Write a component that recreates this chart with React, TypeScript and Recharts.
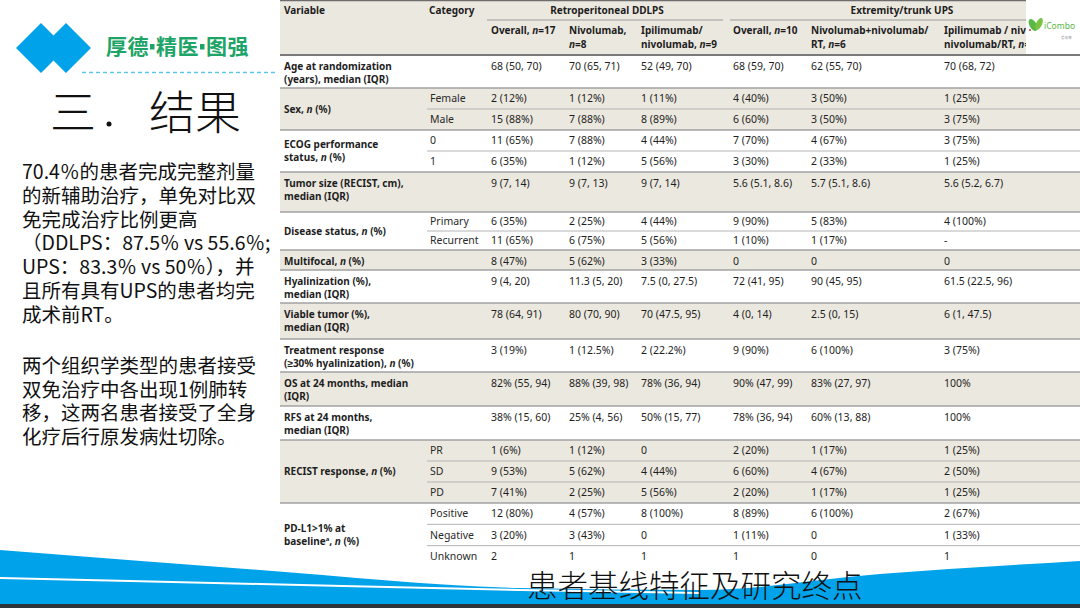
import React from "react";
import { Surface, Layer, Rectangle, Polygon, Curve, Text } from "recharts";

// ---- slide text ----
const bulletLines1 = [
  "70.4％的患者完成完整剂量",
  "的新辅助治疗，单免对比双",
  "免完成治疗比例更高",
  "（DDLPS：87.5％ vs 55.6％;",
  "UPS：83.3％ vs 50％），并",
  "且所有具有UPS的患者均完",
  "成术前RT。",
];
const bulletLines2 = [
  "两个组织学类型的患者接受",
  "双免治疗中各出现1例肺转",
  "移，这两名患者接受了全身",
  "化疗后行原发病灶切除。",
];

// ---- table data ----
const groupHeaders = ["Retroperitoneal DDLPS", "Extremity/trunk UPS"];
const colHeaders = [
  ["Overall, *n*=17"],
  ["Nivolumab,", "*n*=8"],
  ["Ipilimumab/", "nivolumab, *n*=9"],
  ["Overall, *n*=10"],
  ["Nivolumab+nivolumab/", "RT, *n*=6"],
  ["Ipilimumab / nivolumab/", "nivolumab/RT, *n*=4"],
];
const variableLabels = [
  ["Age at randomization", "(years), median (IQR)"],
  ["Sex, *n* (%)"],
  ["ECOG performance", "status, *n* (%)"],
  ["Tumor size (RECIST, cm),", "median (IQR)"],
  ["Disease status, *n* (%)"],
  ["Multifocal, *n* (%)"],
  ["Hyalinization (%),", "median (IQR)"],
  ["Viable tumor (%),", "median (IQR)"],
  ["Treatment response", "(≥30% hyalinization), *n* (%)"],
  ["OS at 24 months, median", "(IQR)"],
  ["RFS at 24 months,", "median (IQR)"],
  ["RECIST response, *n* (%)"],
  ["PD-L1>1% at", "baseline^a^, *n* (%)"],
];
const categories = [
  [""],
  ["Female", "Male"],
  ["0", "1"],
  [""],
  ["Primary", "Recurrent"],
  [""],
  [""],
  [""],
  [""],
  [""],
  [""],
  ["PR", "SD", "PD"],
  ["Positive", "Negative", "Unknown"],
];
const ddlpsOverall = ["68 (50, 70)", "2 (12%)", "15 (88%)", "11 (65%)", "6 (35%)", "9 (7, 14)", "6 (35%)", "11 (65%)", "8 (47%)", "9 (4, 20)", "78 (64, 91)", "3 (19%)", "82% (55, 94)", "38% (15, 60)", "1 (6%)", "9 (53%)", "7 (41%)", "12 (80%)", "3 (20%)", "2"];
const ddlpsNivo = ["70 (65, 71)", "1 (12%)", "7 (88%)", "7 (88%)", "1 (12%)", "9 (7, 13)", "2 (25%)", "6 (75%)", "5 (62%)", "11.3 (5, 20)", "80 (70, 90)", "1 (12.5%)", "88% (39, 98)", "25% (4, 56)", "1 (12%)", "5 (62%)", "2 (25%)", "4 (57%)", "3 (43%)", "1"];
const ddlpsIpiNivo = ["52 (49, 70)", "1 (11%)", "8 (89%)", "4 (44%)", "5 (56%)", "9 (7, 14)", "4 (44%)", "5 (56%)", "3 (33%)", "7.5 (0, 27.5)", "70 (47.5, 95)", "2 (22.2%)", "78% (36, 94)", "50% (15, 77)", "0", "4 (44%)", "5 (56%)", "8 (100%)", "0", "1"];
const upsOverall = ["68 (59, 70)", "4 (40%)", "6 (60%)", "7 (70%)", "3 (30%)", "5.6 (5.1, 8.6)", "9 (90%)", "1 (10%)", "0", "72 (41, 95)", "4 (0, 14)", "9 (90%)", "90% (47, 99)", "78% (36, 94)", "2 (20%)", "6 (60%)", "2 (20%)", "8 (89%)", "1 (11%)", "1"];
const upsNivoRT = ["62 (55, 70)", "3 (50%)", "3 (50%)", "4 (67%)", "2 (33%)", "5.7 (5.1, 8.6)", "5 (83%)", "1 (17%)", "0", "90 (45, 95)", "2.5 (0, 15)", "6 (100%)", "83% (27, 97)", "60% (13, 88)", "1 (17%)", "4 (67%)", "1 (17%)", "6 (100%)", "0", "0"];
const upsIpiNivoRT = ["70 (68, 72)", "1 (25%)", "3 (75%)", "3 (75%)", "1 (25%)", "5.6 (5.2, 6.7)", "4 (100%)", "-", "0", "61.5 (22.5, 96)", "6 (1, 47.5)", "3 (75%)", "100%", "100%", "1 (25%)", "2 (50%)", "1 (25%)", "2 (67%)", "1 (33%)", "1"];
const valueColumns = [ddlpsOverall, ddlpsNivo, ddlpsIpiNivo, upsOverall, upsNivoRT, upsIpiNivoRT];

// ---- layout ----
const groupHeights = [33, 42, 42, 40, 38, 20, 33, 36, 33, 34, 34, 63, 64];
const colX = [491, 569, 641, 733, 811, 944];
const TABLE_LEFT = 280;
const HEADER_H = 55;
const LOGO_X = 1026;
const VAR_X = 284;
const CAT_X = 430;
const SUB_LINE_X = 427;
const BEIGE = "#ebe8df";
const INK = "#1e1e1e";
const LATIN = '"Noto Sans", sans-serif';
const CJK = '"Noto Sans CJK SC", "Noto Sans", sans-serif';
const BLUE = "#00a2ea";
const GREEN = "#1ea467";

function Rich({ x, y, text, size = 10, bold = false, fill = INK }: any) {
  const parts = text.split(/(\*[^*]+\*|\^[^^]+\^)/).filter(Boolean);
  let sup = false;
  return (
    <text x={x} y={y + size * 0.36} fontSize={size} fontWeight={bold ? 700 : 400} fill={fill} fontFamily={LATIN}>
      {parts.map((p: string, i: number) => {
        if (p.startsWith("^")) {
          sup = true;
          return (
            <tspan key={i} fontSize={size * 0.6} dy={-size * 0.4}>
              {p.slice(1, -1)}
            </tspan>
          );
        }
        const dy = sup ? size * 0.4 : undefined;
        sup = false;
        if (p.startsWith("*"))
          return (
            <tspan key={i} fontStyle="italic" dy={dy}>
              {p.slice(1, -1)}
            </tspan>
          );
        return (
          <tspan key={i} dy={dy}>
            {p}
          </tspan>
        );
      })}
    </text>
  );
}

function Table() {
  const tops: number[] = [];
  let acc = HEADER_H;
  groupHeights.forEach((h) => {
    tops.push(acc);
    acc += h;
  });
  let subIdx = 0;
  return (
    <Layer>
      <defs>
        <clipPath id="headerClip">
          <rect x={TABLE_LEFT} y={0} width={LOGO_X - TABLE_LEFT} height={HEADER_H} />
        </clipPath>
      </defs>
      <Rectangle x={TABLE_LEFT} y={0} width={1080 - TABLE_LEFT} height={HEADER_H} fill={BEIGE} />
      {groupHeights.map((h, g) =>
        g % 2 === 1 ? <Rectangle key={g} x={TABLE_LEFT} y={tops[g]} width={1080 - TABLE_LEFT} height={h} fill={BEIGE} /> : null
      )}
      <line x1={TABLE_LEFT} x2={1080} y1={0.5} y2={0.5} stroke="#6d6d6d" strokeWidth={1.5} />
      <g clipPath="url(#headerClip)">
        <Rich x={VAR_X} y={10} text="Variable" bold />
        <Rich x={429} y={10} text="Category" bold />
        <text x={607} y={10 + 3.6} fontSize={10} fontWeight={700} fill={INK} fontFamily={LATIN} textAnchor="middle">
          {groupHeaders[0]}
        </text>
        <text x={902} y={10 + 3.6} fontSize={10} fontWeight={700} fill={INK} fontFamily={LATIN} textAnchor="middle">
          {groupHeaders[1]}
        </text>
        {colHeaders.map((lines, c) =>
          lines.map((t, l) => <Rich key={`${c}-${l}`} x={colX[c]} y={30 + l * 14} text={t} bold />)
        )}
      </g>
      <line x1={487} x2={723} y1={20} y2={20} stroke="#9a9a9a" strokeWidth={1.2} />
      <line x1={730} x2={1080} y1={20} y2={20} stroke="#9a9a9a" strokeWidth={1.2} />
      {groupHeights.map((h, g) => {
        const top = tops[g];
        const cats = categories[g];
        const n = cats.length;
        const subH = h / n;
        const labels = variableLabels[g];
        const labelY0 = n > 1 ? top + h / 2 - ((labels.length - 1) * 13) / 2 : top + 11.5;
        const start = subIdx;
        subIdx += n;
        return (
          <Layer key={g}>
            {labels.map((t, l) => (
              <Rich key={l} x={VAR_X} y={labelY0 + l * 13} text={t} bold />
            ))}
            {cats.map((c, k) => {
              const cy = n > 1 ? top + subH * (k + 0.5) : top + 11.5;
              return (
                <Layer key={k}>
                  {c ? <Rich x={CAT_X} y={cy} text={c} size={10.5} fill="#2a2a2a" /> : null}
                  {valueColumns.map((col, ci) => (
                    <Rich key={ci} x={colX[ci]} y={cy} text={col[start + k]} size={10.5} />
                  ))}
                  {k > 0 ? (
                    <line x1={SUB_LINE_X} x2={1080} y1={top + subH * k} y2={top + subH * k} stroke="#b4b4b4" strokeWidth={1} />
                  ) : null}
                </Layer>
              );
            })}
            {g < groupHeights.length - 1 ? (
              <line x1={TABLE_LEFT} x2={1080} y1={top + h} y2={top + h} stroke="#a2a2a2" strokeWidth={1.3} />
            ) : null}
          </Layer>
        );
      })}
      <line x1={TABLE_LEFT} x2={1080} y1={HEADER_H} y2={HEADER_H} stroke="#7a7a7a" strokeWidth={2} />
    </Layer>
  );
}

function Slide() {
  const waveTop = [
    { x: 0, y: 550 },
    { x: 260, y: 570 },
    { x: 520, y: 588 },
    { x: 700, y: 590 },
    { x: 880, y: 574 },
    { x: 1080, y: 561 },
  ];
  const whiteLine = [
    { x: 0, y: 578 },
    { x: 260, y: 584 },
    { x: 520, y: 590 },
    { x: 700, y: 593 },
  ];
  return (
    <Surface width={1080} height={608}>
      <Rectangle x={0} y={0} width={1080} height={608} fill="#ffffff" />
      <Table />
      {/* top-right logo box */}
      <Rectangle x={LOGO_X} y={0} width={1080 - LOGO_X} height={54} fill="#ffffff" />
      <ellipse cx={1033} cy={25} rx={3.5} ry={6.5} fill="#58b947" transform="rotate(-30 1033 25)" />
      <ellipse cx={1039} cy={24} rx={3} ry={6.5} fill="#7cc242" transform="rotate(25 1039 24)" />
      <circle cx={1030} cy={30} r={1} fill="#e0302b" />
      <text x={1044} y={29} fontSize={8.5} fill="#58b947" fontFamily={LATIN}>
        iCombo
      </text>
      <text x={1061} y={39} fontSize={3.5} fill="#9a9a9a" fontFamily={CJK}>
        爱康博
      </text>

      {/* left header logo */}
      <Polygon
        points={[
          { x: 16, y: 48 },
          { x: 41, y: 23 },
          { x: 53.5, y: 35.5 },
          { x: 66, y: 23 },
          { x: 91, y: 48 },
          { x: 66, y: 73 },
          { x: 53.5, y: 60.5 },
          { x: 41, y: 73 },
        ]}
        fill={BLUE}
      />
      <Text x={106} y={47} verticalAnchor="middle" style={{ fontSize: 21, fontWeight: 700, fill: GREEN, fontFamily: CJK, letterSpacing: 0.5 }}>
        厚德
      </Text>
      <Rectangle x={150} y={44} width={4.5} height={5.5} fill={GREEN} />
      <Text x={156} y={47} verticalAnchor="middle" style={{ fontSize: 21, fontWeight: 700, fill: GREEN, fontFamily: CJK, letterSpacing: 0.5 }}>
        精医
      </Text>
      <Rectangle x={200} y={44} width={4.5} height={5.5} fill={GREEN} />
      <Text x={206} y={47} verticalAnchor="middle" style={{ fontSize: 21, fontWeight: 700, fill: GREEN, fontFamily: CJK, letterSpacing: 0.5 }}>
        图强
      </Text>
      <line x1={82} x2={278} y1={72.5} y2={72.5} stroke="#5ec6ea" strokeWidth={1.5} strokeDasharray="4 3" />

      <Text x={50} y={113} verticalAnchor="middle" style={{ fontSize: 46, fill: "#111", fontFamily: CJK, fontWeight: 300 }}>
        三
      </Text>
      <circle cx={109} cy={124} r={2.5} fill="#111" />
      <Text x={149} y={113} verticalAnchor="middle" style={{ fontSize: 46, fill: "#111", fontFamily: CJK, fontWeight: 300 }}>
        结果
      </Text>

      {bulletLines1.map((t, i) => (
        <Text key={`a${i}`} x={22} y={172 + i * 23.8} verticalAnchor="middle" style={{ fontSize: 19.5, fill: "#111", fontFamily: CJK }}>
          {t}
        </Text>
      ))}
      {bulletLines2.map((t, i) => (
        <Text key={`b${i}`} x={22} y={366 + i * 23.7} verticalAnchor="middle" style={{ fontSize: 19.5, fill: "#111", fontFamily: CJK }}>
          {t}
        </Text>
      ))}

      {/* bottom wave */}
      <Curve type="monotoneX" points={waveTop} baseLine={605} fill={BLUE} stroke="none" />
      <Curve type="monotoneX" points={whiteLine} fill="none" stroke="#ffffff" strokeWidth={2} />
      <Rectangle x={0} y={604} width={1080} height={4} fill="#2e3438" />
      <Text x={527} y={586} verticalAnchor="middle" style={{ fontSize: 30.5, fill: "#111", fontFamily: CJK, fontWeight: 300 }}>
        患者基线特征及研究终点
      </Text>
    </Surface>
  );
}

export default function App() {
  return (
    <div style={{ position: "absolute", left: 0, top: 0, width: 1080, height: 608, background: "#fff", overflow: "hidden" }}>
      <Slide />
    </div>
  );
}
